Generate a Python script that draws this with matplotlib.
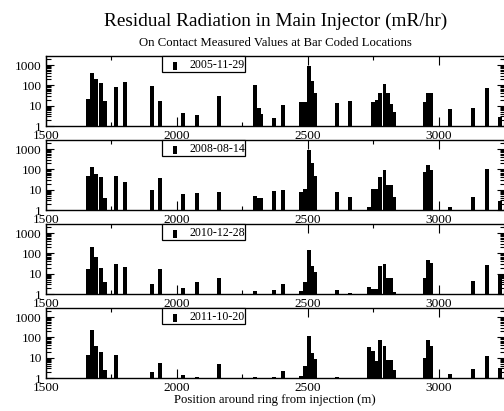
import matplotlib
matplotlib.use("Agg")
import matplotlib.pyplot as plt
from matplotlib.patches import Rectangle
from matplotlib.ticker import LogLocator, FixedLocator, NullFormatter, MultipleLocator
import numpy as np

plt.rcParams['font.family'] = ['Liberation Serif', 'DejaVu Serif']

title = "Residual Radiation in Main Injector (mR/hr)"
subtitle = "On Contact Measured Values at Bar Coded Locations"
xlabel = "Position around ring from injection (m)"
dates = ["2005-11-29", "2008-08-14", "2010-12-28", "2011-10-20"]

positions = [1660, 1675, 1692, 1710, 1726, 1767, 1800, 1904, 1935, 2022, 2077, 2161,
             2298, 2312, 2321, 2369, 2404, 2474, 2489, 2503, 2515, 2526, 2610, 2659,
             2732, 2748, 2762, 2776, 2792, 2806, 2818, 2828, 2948, 2958, 2970, 3043,
             3129, 3184, 3233]

vals_2005 = [21, 420, 200, 125, 17, 80, 140, 96, 18, 4.5, 3.3, 31,
             110, 7.4, 3.9, 2.6, 10.8, 14.6, 14.6, 890, 170, 43, 14, 17,
             0, 16, 19, 40, 116, 40, 11.6, 5, 16, 40, 40, 6.9,
             7.4, 71, 2.9]
vals_2008 = [49, 135, 59, 40, 4, 45, 23, 9.3, 39, 6.1, 6.8, 7.7,
             5.1, 4, 4, 8.6, 9.6, 7.4, 10.8, 890, 200, 47, 7.7, 4.5,
             1.4, 10.4, 10.8, 43, 92, 17, 17, 4.5, 77, 163, 92, 1.35,
             4.5, 104, 2.9]
vals_2010 = [17, 213, 70, 19, 3.7, 31, 21, 3, 17.6, 2, 3.9, 6.1,
             1.35, 0, 0, 1.5, 3.2, 1.4, 3.9, 150, 23, 12, 1.6, 1.15,
             2.2, 1.8, 1.8, 25, 30, 6.1, 6.1, 1.3, 6.1, 45, 33, 0,
             4.4, 28, 10]
vals_2011 = [13, 220, 36, 19, 2.5, 13, 0, 2, 5.5, 1.46, 1.1, 5.1,
             1.1, 0, 0, 1.1, 2.2, 1.2, 3.7, 112, 18, 9, 1.15, 0,
             33, 22, 7.1, 76, 36, 7.4, 7.4, 2.4, 9.6, 76, 39, 1.6,
             2.8, 12.5, 3.1]
series = [vals_2005, vals_2008, vals_2010, vals_2011]

W, H = 504, 411
fig = plt.figure(figsize=(W / 100, H / 100), dpi=100)

left_px, width_px = 46, 458.5
tops_px = [56, 140, 224, 308]
panel_h = 70

for i, (d, v) in enumerate(zip(dates, series)):
    top = tops_px[i]
    ax = fig.add_axes([left_px / W, 1 - (top + panel_h) / H, width_px / W, panel_h / H])
    x = np.array(positions, dtype=float)
    y = np.array(v, dtype=float)
    m = y > 0
    ax.set_yscale('log')
    ax.bar(x[m], y[m], width=15, color='black', edgecolor='none', bottom=0)
    ax.set_xlim(1500, 3250)
    ax.set_ylim(1, 2800)
    ax.xaxis.set_major_locator(MultipleLocator(500))
    ax.xaxis.set_minor_locator(MultipleLocator(250))
    ax.yaxis.set_major_locator(FixedLocator([1, 10, 100, 1000]))
    ax.set_yticklabels(["1", "10", "100", "1000"])
    ax.yaxis.set_minor_locator(LogLocator(base=10, subs=np.arange(2, 10), numticks=20))
    ax.yaxis.set_minor_formatter(NullFormatter())
    ax.tick_params(axis='both', which='both', direction='in', top=True, right=True,
                   labelsize=9.6, width=0.8)
    ax.tick_params(axis='x', which='major', length=6.5, pad=3)
    ax.tick_params(axis='x', which='minor', length=3)
    ax.tick_params(axis='y', which='major', length=6, pad=3)
    ax.tick_params(axis='y', which='minor', length=3.5)
    for s in ax.spines.values():
        s.set_linewidth(1.0)
    # legend box
    bx0 = (162 - left_px) / width_px
    bx1 = (245 - left_px) / width_px
    by0 = 1 - 16 / panel_h
    ax.add_patch(Rectangle((bx0, by0), bx1 - bx0, 1 - by0, transform=ax.transAxes,
                           facecolor='white', edgecolor='black', linewidth=0.9,
                           zorder=5, clip_on=False))
    mx0 = (173.3 - left_px) / width_px
    mx1 = (176.8 - left_px) / width_px
    ax.add_patch(Rectangle((mx0, 1 - 14 / panel_h), mx1 - mx0, 8.3 / panel_h,
                           transform=ax.transAxes, facecolor='black', edgecolor='none',
                           zorder=6, clip_on=False))
    ax.text((190 - left_px) / width_px, 1 - 8.5 / panel_h, d, transform=ax.transAxes,
            fontsize=8.6, va='center', ha='left', zorder=7)
    if i == 3:
        ax.set_xlabel(xlabel, fontsize=9.2, labelpad=0)

cx = (left_px + width_px / 2) / W
fig.text(cx, 1 - 21 / H, title, ha='center', va='center', fontsize=13.9)
fig.text(cx, 1 - 43 / H, subtitle, ha='center', va='center', fontsize=9.2)

fig.savefig("out.png", dpi=100)
